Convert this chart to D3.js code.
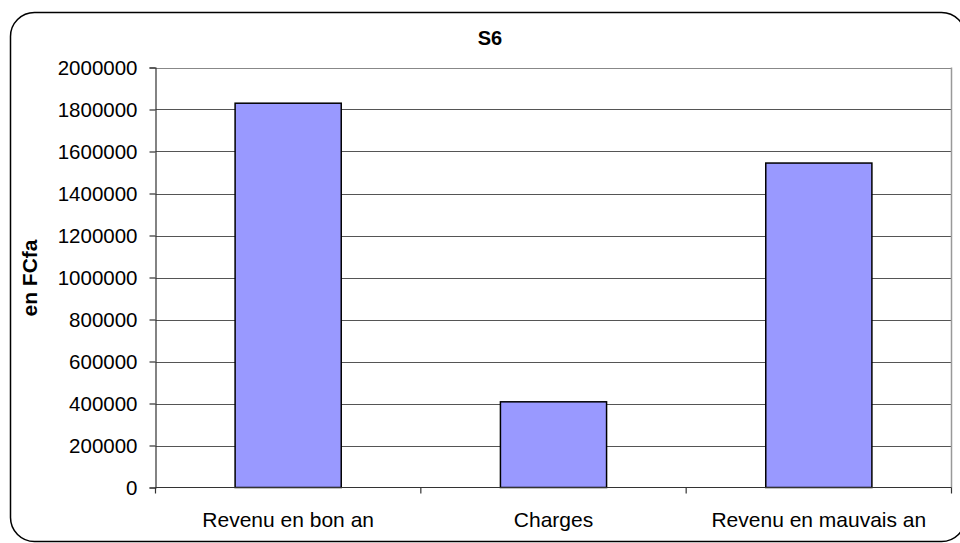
<!DOCTYPE html>
<html>
<head>
<meta charset="utf-8">
<script src="https://cdn.jsdelivr.net/npm/d3@7"></script>
<style>
body { margin: 0; background: #fff; }
svg { display: block; font-family: "Liberation Sans", Arial, sans-serif; }
</style>
</head>
<body>
<svg width="960" height="543"></svg>
<script>

var categories = ["Revenu en bon an", "Charges", "Revenu en mauvais an"];
var values = [1830000, 408000, 1545000];
var yTicks = [0, 200000, 400000, 600000, 800000, 1000000, 1200000, 1400000, 1600000, 1800000, 2000000];

var svg = d3.select("svg");

var margin = {left: 155.5, right: 951.5, top: 67.5, bottom: 487.5};

// outer frame
svg.append("rect")
	.attr("x", 10.5).attr("y", 12.5)
	.attr("width", 955).attr("height", 529)
	.attr("rx", 24).attr("ry", 24)
	.attr("fill", "#fff")
	.attr("stroke", "#000")
	.attr("stroke-width", 1.5);

var x = d3.scaleBand()
	.domain(categories)
	.range([margin.left, margin.right])
	.paddingInner(0.6)
	.paddingOuter(0.3);

var xb = d3.scaleBand()
	.domain(categories)
	.range([margin.left, margin.right]);

var y = d3.scaleLinear()
	.domain([0, 2000000])
	.range([margin.bottom, margin.top]);

// gridlines
svg.append("g")
	.selectAll("line")
	.data(yTicks.slice(1))
	.enter().append("line")
	.attr("x1", margin.left).attr("x2", margin.right)
	.attr("y1", function(d) { return Math.round(y(d)) + 0.5; })
	.attr("y2", function(d) { return Math.round(y(d)) + 0.5; })
	.attr("stroke", function(d) { return d == 2000000 ? "#888" : "#555"; })
	.attr("stroke-width", 1.2);

// right border of plot
svg.append("line")
	.attr("x1", margin.right).attr("x2", margin.right)
	.attr("y1", margin.top).attr("y2", margin.bottom)
	.attr("stroke", "#999").attr("stroke-width", 1.5);

// bars
svg.append("g")
	.selectAll("rect")
	.data(values)
	.enter().append("rect")
	.attr("x", function(d, i) { return x(categories[i]); })
	.attr("width", x.bandwidth())
	.attr("y", function(d) { return y(d); })
	.attr("height", function(d) { return y(0) - y(d); })
	.attr("fill", "#9999ff")
	.attr("stroke", "#000")
	.attr("stroke-width", 1.5);

// y axis
var yAxis = svg.append("g")
	.attr("transform", "translate(" + margin.left + ",0)")
	.call(d3.axisLeft(y).tickValues(yTicks).tickSize(6).tickPadding(12).tickFormat(d3.format("d")));
yAxis.selectAll("text").attr("font-size", 20.5).attr("fill", "#000").attr("font-family", "Liberation Sans, Arial, sans-serif");
yAxis.selectAll("line,path").attr("stroke", "#333").attr("stroke-width", 1.2);

// x axis
var bounds = [margin.left].concat(categories.map(function(c) { return xb(c) + xb.bandwidth(); }));
var xAxis = svg.append("g");
xAxis.append("line")
	.attr("x1", margin.left).attr("x2", margin.right)
	.attr("y1", margin.bottom).attr("y2", margin.bottom)
	.attr("stroke", "#333").attr("stroke-width", 1.2);
xAxis.selectAll("line.tick")
	.data(bounds)
	.enter().append("line")
	.attr("class", "tick")
	.attr("x1", function(d) { return d; }).attr("x2", function(d) { return d; })
	.attr("y1", margin.bottom).attr("y2", margin.bottom + 6)
	.attr("stroke", "#333").attr("stroke-width", 1.2);
xAxis.selectAll("text")
	.data(categories)
	.enter().append("text")
	.attr("x", function(d) { return xb(d) + xb.bandwidth() / 2; })
	.attr("y", 527)
	.attr("text-anchor", "middle")
	.attr("font-size", 21)
	.text(function(d) { return d; });

// title
svg.append("text")
	.attr("x", 490).attr("y", 45)
	.attr("text-anchor", "middle")
	.attr("font-size", 20)
	.attr("font-weight", "bold")
	.text("S6");

// y axis title
svg.append("text")
	.attr("transform", "translate(37,278) rotate(-90)")
	.attr("text-anchor", "middle")
	.attr("font-size", 21)
	.attr("font-weight", "bold")
	.text("en FCfa");

</script>
</body>
</html>
